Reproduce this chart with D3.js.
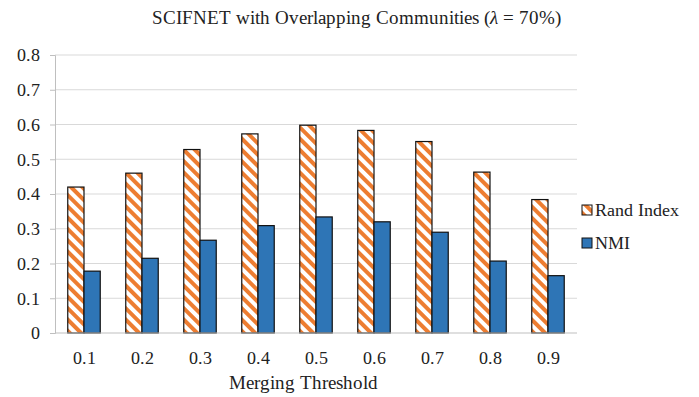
<!DOCTYPE html>
<html>
<head>
<meta charset="utf-8">
<style>
  @font-face { font-family: "ChartSerif"; src: local("Liberation Serif"), local("LiberationSerif-Regular"), local("Tinos"); }
  @font-face { font-family: "ChartSerif"; font-style: italic; src: local("Liberation Serif Italic"), local("LiberationSerif-Italic"); }
  body { margin: 0; background: #fff; }
</style>
<script src="https://cdn.jsdelivr.net/npm/d3@7"></script>
</head>
<body>
<svg id="chart" width="699" height="397"></svg>
<script>
// categories and series
const thresholds = ["0.1", "0.2", "0.3", "0.4", "0.5", "0.6", "0.7", "0.8", "0.9"];
const randIndex = [0.42, 0.46, 0.528, 0.573, 0.598, 0.583, 0.551, 0.463, 0.384];
const nmi = [0.178, 0.215, 0.267, 0.309, 0.334, 0.32, 0.29, 0.207, 0.165];
const seriesNames = ["Rand Index", "NMI"];
const yTicks = [0, 0.1, 0.2, 0.3, 0.4, 0.5, 0.6, 0.7, 0.8];

const width = 699, height = 397;
const margin = {top: 55, right: 122, bottom: 64, left: 55};
const font = "ChartSerif, 'Liberation Serif', 'Times New Roman', serif";

const svg = d3.select("#chart").attr("font-family", font);

// hatch pattern for Rand Index
const defs = svg.append("defs");
const pat = defs.append("pattern")
    .attr("id", "hatch")
    .attr("patternUnits", "userSpaceOnUse")
    .attr("width", 8)
    .attr("height", 8)
    .attr("patternTransform", "rotate(45)");
pat.append("rect").attr("width", 8).attr("height", 8).attr("fill", "#fff");
pat.append("rect").attr("width", 8).attr("height", 4).attr("fill", "#ED7D31");

const x = d3.scaleBand()
    .domain(thresholds)
    .range([margin.left, width - margin.right])
    .paddingInner(0.44)
    .paddingOuter(0.22);

const xs = d3.scaleBand()
    .domain(seriesNames)
    .range([0, x.bandwidth()]);

const y = d3.scaleLinear()
    .domain([0, 0.8])
    .range([height - margin.bottom, margin.top]);

// gridlines
svg.append("g")
    .selectAll("line")
    .data(yTicks.slice(1))
    .enter().append("line")
    .attr("x1", margin.left)
    .attr("x2", width - margin.right)
    .attr("y1", d => y(d))
    .attr("y2", d => y(d))
    .attr("stroke", "#d9d9d9")
    .attr("stroke-width", 1);

// y axis
const yAxis = svg.append("g")
    .attr("transform", `translate(${margin.left},0)`)
    .call(d3.axisLeft(y).tickValues(yTicks).tickFormat(d => d === 0 ? "0" : d3.format(".1f")(d)).tickSize(5).tickPadding(10))
    .attr("font-family", font)
    .attr("font-size", 18);
yAxis.select(".domain").attr("stroke", "#bfbfbf");
yAxis.selectAll(".tick line").attr("stroke", "#bfbfbf");
yAxis.selectAll("text").attr("fill", "#222");

// bars
const groups = svg.append("g")
    .selectAll("g")
    .data(thresholds)
    .enter().append("g")
    .attr("transform", d => `translate(${x(d)},0)`);

groups.append("rect")
    .attr("x", xs("Rand Index"))
    .attr("y", (d, i) => y(randIndex[i]))
    .attr("width", xs.bandwidth())
    .attr("height", (d, i) => y(0) - y(randIndex[i]))
    .attr("fill", "url(#hatch)")
    .attr("stroke", "#111")
    .attr("stroke-width", 1.2);

groups.append("rect")
    .attr("x", xs("NMI"))
    .attr("y", (d, i) => y(nmi[i]))
    .attr("width", xs.bandwidth())
    .attr("height", (d, i) => y(0) - y(nmi[i]))
    .attr("fill", "#2E75B6")
    .attr("stroke", "#111")
    .attr("stroke-width", 1.2);

// x axis
const xAxis = svg.append("g")
    .attr("transform", `translate(0,${y(0)})`)
    .call(d3.axisBottom(x).tickSize(0).tickPadding(18))
    .attr("font-family", font)
    .attr("font-size", 18);
xAxis.select(".domain").attr("stroke", "#bfbfbf").attr("d", `M${margin.left},0H${width - margin.right}`);
xAxis.selectAll("text").attr("fill", "#222");

// axis title
svg.append("text")
    .attr("x", 303)
    .attr("y", 389)
    .attr("text-anchor", "middle")
    .attr("font-size", 19)
    .attr("fill", "#222")
    .text("Merging Threshold");

// chart title
const title = svg.append("text")
    .attr("x", 356)
    .attr("y", 24)
    .attr("text-anchor", "middle")
    .attr("font-size", 18.5)
    .attr("fill", "#222");
title.append("tspan").text("SCIFNET with Overlapping Communities (");
title.append("tspan").attr("font-style", "italic").text("λ");
title.append("tspan").text(" = 70%)");

// legend
const legend = svg.append("g")
    .selectAll("g")
    .data(seriesNames)
    .enter().append("g")
    .attr("transform", (d, i) => `translate(582,${210 + i * 33})`);

legend.append("rect")
    .attr("x", 0)
    .attr("y", -5)
    .attr("width", 10)
    .attr("height", 10)
    .attr("fill", (d, i) => i === 0 ? "url(#hatch)" : "#2E75B6")
    .attr("stroke", "#111")
    .attr("stroke-width", 1);

legend.append("text")
    .attr("x", 13)
    .attr("y", 0)
    .attr("dy", "0.35em")
    .attr("font-size", 18)
    .attr("fill", "#222")
    .text(d => d);
</script>
</body>
</html>
